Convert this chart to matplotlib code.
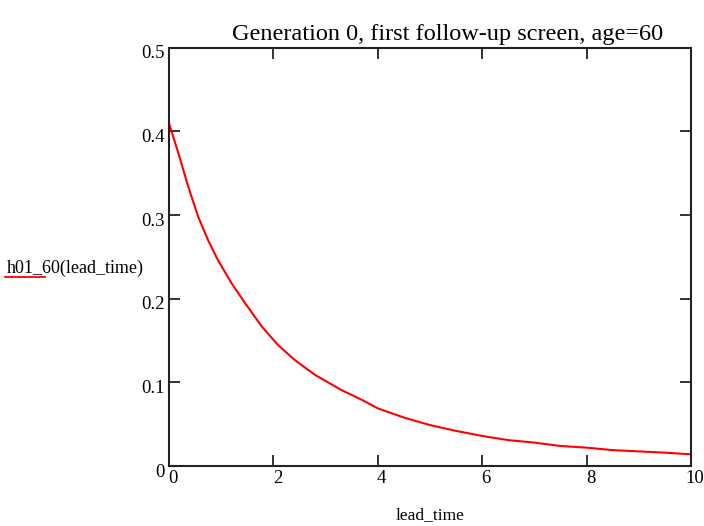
import matplotlib.pyplot as plt
from matplotlib.lines import Line2D
import matplotlib.transforms as mtransforms

# hazard values read along the lead_time axis
lead_time = [0.0, 0.18, 0.37, 0.56, 0.75, 0.94, 1.20, 1.46, 1.78, 2.09,
             2.41, 2.80, 3.3, 3.7, 4.0, 4.5, 5.0, 5.5, 6.0, 6.5, 7.0,
             7.5, 8.0, 8.5, 9.0, 9.5, 10.0]
h01_60 = [0.410, 0.374, 0.334, 0.298, 0.270, 0.246, 0.2185, 0.1946, 0.1667,
          0.1447, 0.1268, 0.1089, 0.091, 0.079, 0.069, 0.058, 0.049, 0.042,
          0.036, 0.031, 0.028, 0.024, 0.022, 0.019, 0.0175, 0.016, 0.014]
xticks = [0, 2, 4, 6, 8, 10]
yticks = [0, 0.1, 0.2, 0.3, 0.4, 0.5]

plt.rcParams['font.family'] = 'Liberation Serif'

fig = plt.figure(figsize=(7.04, 5.26), dpi=100)
ax = fig.add_axes([0.240, 0.114, 0.7415, 0.795])

ax.plot(lead_time, h01_60, color='red', lw=1.5, solid_joinstyle='round')

ax.set_xlim(0, 10)
ax.set_ylim(0, 0.5)
ax.set_xticks(xticks)
ax.set_yticks(yticks)
ax.set_xticklabels([str(t) for t in xticks])
ax.set_yticklabels(['0', '0.1', '0.2', '0.3', '0.4', '0.5'])
ax.tick_params(direction='in', length=8, width=1.3, color='#222222',
               top=True, right=True, labelsize=13.5, pad=3)
for sp in ax.spines.values():
    sp.set_linewidth(1.5)
    sp.set_color('#222222')

# nudge tick labels the way the worksheet places them
dx = mtransforms.ScaledTranslation(4/100, 0, fig.dpi_scale_trans)
for lab in ax.get_xticklabels():
    lab.set_transform(lab.get_transform() + dx)
dy = mtransforms.ScaledTranslation(0, -4/100, fig.dpi_scale_trans)
for lab in ax.get_yticklabels():
    lab.set_transform(lab.get_transform() + dy)

ax.set_title('Generation 0, first follow-up screen, age=60', fontsize=17.5,
             pad=6, x=0.534)
ax.set_xlabel('lead_time', fontsize=12.5, labelpad=14)

# trace label with its line sample, left of the plot
fig.text(7/704, 1 - 268/526, 'h01_60(lead_time)', fontsize=13, va='center', ha='left')
fig.add_artist(Line2D([5/704, 45/704], [1 - 277/526, 1 - 277/526],
                      color='red', lw=1.3, transform=fig.transFigure))

fig.savefig('out.png', dpi=100)
